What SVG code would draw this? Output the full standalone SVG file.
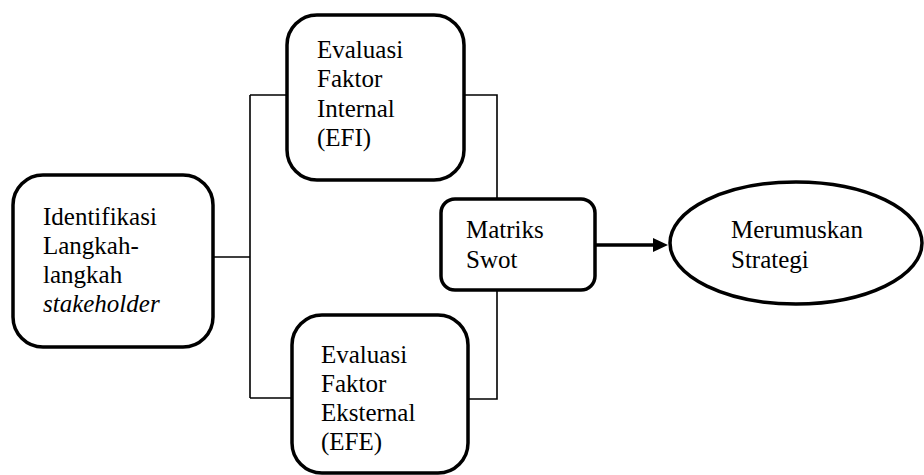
<svg xmlns="http://www.w3.org/2000/svg" width="924" height="475" viewBox="0 0 924 475">
<defs>
<style>
.box{fill:#fff;stroke:#000;stroke-width:3.5}
.ln{fill:none;stroke:#000;stroke-width:1.6}
.t{font-size:25px;fill:#000}
</style>
</defs>
<rect width="924" height="475" fill="#fff"/>
<g id="connectors">
<path class="ln" d="M213,257 H250 M250,95 V398 M250,95 H287 M250,398 H293"/>
<path class="ln" d="M464,95 H497 V199 M497,290 V399 H467"/>
<path d="M595,245 H657" stroke="#000" stroke-width="3.5" fill="none"/>
<path d="M653,238 L668,245 L653,252 Z" fill="#000"/>
</g>
<g font-family="Liberation Serif, Times New Roman, DejaVu Serif, serif">
<g id="identifikasi">
<rect class="box" x="13" y="175" width="200" height="172" rx="30"/>
<text class="t" x="43" y="225">Identifikasi</text>
<text class="t" x="43" y="254">Langkah-</text>
<text class="t" x="43" y="283">langkah</text>
<text class="t" x="43" y="312" font-style="italic">stakeholder</text>
</g>
<g id="efi">
<rect class="box" x="287" y="15" width="177" height="165" rx="30"/>
<text class="t" x="317" y="58">Evaluasi</text>
<text class="t" x="317" y="87">Faktor</text>
<text class="t" x="317" y="117">Internal</text>
<text class="t" x="317" y="146">(EFI)</text>
</g>
<g id="efe">
<rect class="box" x="292" y="315" width="176" height="158" rx="30"/>
<text class="t" x="321" y="363">Evaluasi</text>
<text class="t" x="321" y="392">Faktor</text>
<text class="t" x="321" y="421">Eksternal</text>
<text class="t" x="321" y="450">(EFE)</text>
</g>
<g id="swot">
<rect class="box" x="441" y="199" width="154" height="91" rx="14"/>
<text class="t" x="466" y="238">Matriks</text>
<text class="t" x="466" y="268">Swot</text>
</g>
<g id="strategi">
<ellipse class="box" cx="796" cy="243" rx="126" ry="61"/>
<text class="t" x="731" y="238">Merumuskan</text>
<text class="t" x="731" y="268">Strategi</text>
</g>
</g>
</svg>
